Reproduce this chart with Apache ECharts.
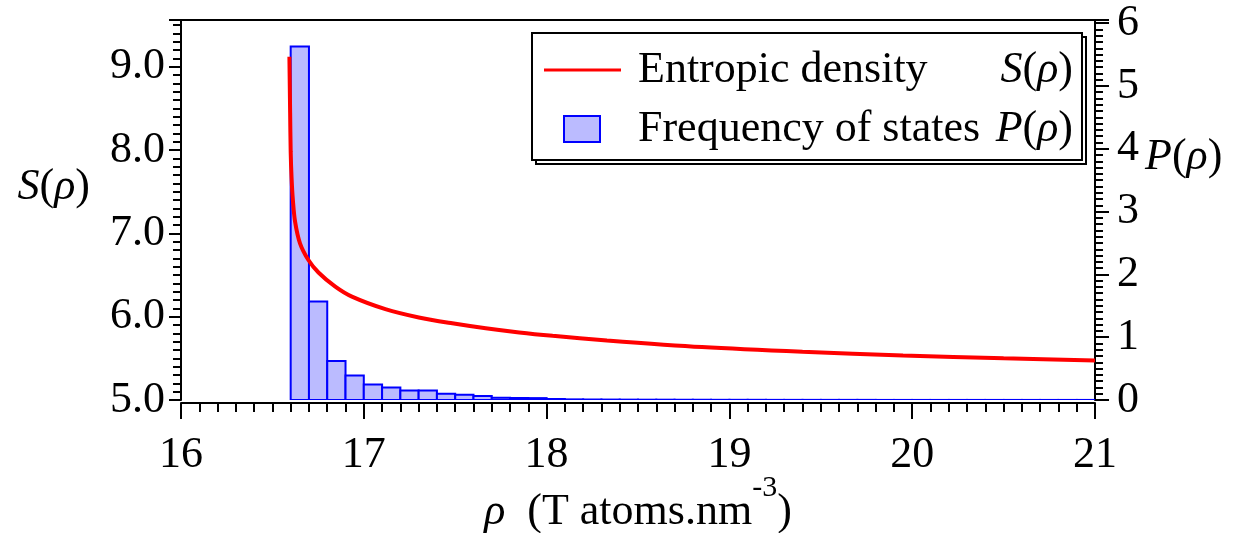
<!DOCTYPE html>
<html><head><meta charset="utf-8">
<script src="https://cdn.jsdelivr.net/npm/echarts@6/dist/echarts.min.js"></script>
<style>html,body{margin:0;padding:0;background:#fff}#c{width:1233px;height:533px}</style>
</head><body><div id="c"></div>
<script>
// Entropic density curve S(rho)
const rho = [16.593, 16.595, 16.597, 16.600, 16.605, 16.612, 16.624, 16.651, 16.697, 16.752, 16.844, 16.935, 17.118, 17.301, 17.484, 17.667, 17.850, 18.033, 18.33, 18.85, 19.40, 19.95, 20.50, 21.00];
const entropy = [9.12, 8.78, 8.45, 7.98, 7.66, 7.40, 7.14, 6.88, 6.68, 6.53, 6.36, 6.24, 6.09, 5.99, 5.92, 5.86, 5.81, 5.77, 5.715, 5.635, 5.578, 5.535, 5.50, 5.475];
// Histogram P(rho): bin edges and frequencies
const binEdges = [16.6,16.7,16.8,16.9,17.0,17.1,17.2,17.3,17.4,17.5,17.6,17.7,17.8,17.9,18.0,18.1,18.2,18.3,18.4,18.5,18.6,18.7,18.8,18.9,19.0,19.1,19.2,19.3,19.4,19.5,19.6,19.7,19.8,19.9,20.0,20.1,20.2,20.3,20.4,20.5,20.6,20.7,20.8,20.9,21.0];
const freq = [5.63,1.57,0.62,0.39,0.245,0.20,0.153,0.153,0.098,0.085,0.064,0.037,0.032,0.030,0.016,0.010,0.008,0.007,0.006,0.005,0.005,0.004,0.004,0.003,0.003,0.003,0.002,0.002,0.002,0.002,0.002,0.002,0.001,0.001,0.001,0.001,0.001,0.001,0.001,0.001,0.001,0.001,0.001,0.001];
const xTickLabels = ['16','17','18','19','20','21'];

const FONT = '"Liberation Serif", "Times New Roman", serif';
const FS = 44;
const black = '#000';
const histData = freq.map((f, i) => [binEdges[i], binEdges[i + 1], f]);
const lineData = rho.map((r, i) => [r, entropy[i]]);

const chart = echarts.init(document.getElementById('c'), null, {renderer: 'canvas'});
const italic = {fontStyle: 'italic', fontFamily: FONT, fontSize: FS, color: black};

chart.setOption({
  animation: false,
  backgroundColor: '#fff',
  grid: {left: 181, right: 138, top: 20, bottom: 133, containLabel: false, outerBoundsMode: 'none'},
  xAxis: [{
    type: 'value', min: 16, max: 21, interval: 1, position: 'bottom', offset: 3,
    axisLine: {show: true, onZero: false, lineStyle: {color: black, width: 2}},
    axisTick: {show: true, inside: false, length: 16, lineStyle: {color: black, width: 2}},
    minorTick: {show: true, splitNumber: 10, length: 9, lineStyle: {color: black, width: 2}},
    splitLine: {show: false}, minorSplitLine: {show: false},
    axisLabel: {color: black, fontFamily: FONT, fontSize: FS, margin: 30,
      formatter: v => xTickLabels[Math.round(v - 16)] || ''},
    name: '{i|\u03c1}{n|  (T atoms.nm}{sup|-3}{n|)}',
    nameLocation: 'middle', nameGap: 70, nameMoveOverlap: false,
    nameTextStyle: {color: black, fontFamily: FONT, fontSize: FS,
      rich: {
        i: {fontStyle: 'italic', fontFamily: FONT, fontSize: FS, color: black, lineHeight: 78, verticalAlign: 'middle'},
        n: {fontFamily: FONT, fontSize: FS, color: black, lineHeight: 78, verticalAlign: 'middle'},
        sup: {fontFamily: FONT, fontSize: 30, color: black, lineHeight: 30, verticalAlign: 'top'}
      }}
  }, {
    type: 'value', min: 16, max: 21, position: 'top',
    axisLine: {show: true, onZero: false, lineStyle: {color: black, width: 2}},
    axisTick: {show: false}, axisLabel: {show: false}, splitLine: {show: false}
  }],
  yAxis: [{
    type: 'value', min: 5, max: 9.56, interval: 1, position: 'left',
    axisLine: {show: true, onZero: false, lineStyle: {color: black, width: 2}},
    axisTick: {show: true, length: 12, lineStyle: {color: black, width: 2}},
    splitLine: {show: false},
    axisLabel: {color: black, fontFamily: FONT, fontSize: FS, margin: 16,
      formatter: v => Math.abs(v - Math.round(v)) < 1e-6 ? v.toFixed(1) : ''},
    name: '{i|S}({i|\u03c1})', nameLocation: 'middle', nameRotate: 0, nameGap: 91, nameMoveOverlap: false,
    nameTextStyle: {color: black, fontFamily: FONT, fontSize: FS, padding: [0, 0, 46, 0], rich: {i: italic}}
  }, {
    type: 'value', min: 5, max: 9.56, interval: 0.1, position: 'left',
    axisLine: {show: false}, axisTick: {show: true, length: 8, lineStyle: {color: black, width: 2}},
    axisLabel: {show: false}, splitLine: {show: false}
  }, {
    type: 'value', min: 0, max: 6.05, interval: 1, position: 'right',
    axisLine: {show: true, onZero: false, lineStyle: {color: black, width: 2}},
    axisTick: {show: true, length: 14, lineStyle: {color: black, width: 2}},
    splitLine: {show: false},
    axisLabel: {color: black, fontFamily: FONT, fontSize: FS, margin: 22,
      formatter: v => Math.abs(v - Math.round(v)) < 1e-6 ? String(Math.round(v)) : ''},
    name: '{i|P}({i|\u03c1})', nameLocation: 'middle', nameRotate: 0, nameGap: 50, nameMoveOverlap: false,
    nameTextStyle: {color: black, fontFamily: FONT, fontSize: FS, padding: [0, 0, 106, 0], rich: {i: italic}}
  }, {
    type: 'value', min: 0, max: 6.05, interval: 0.1, position: 'right',
    axisLine: {show: false}, axisTick: {show: true, length: 8, lineStyle: {color: black, width: 2}},
    axisLabel: {show: false}, splitLine: {show: false}
  }],
  series: [{
    type: 'custom', name: 'Frequency of states', xAxisIndex: 0, yAxisIndex: 2, clip: true, z: 2,
    encode: {x: [0, 1], y: 2},
    data: histData,
    renderItem: (params, api) => {
      const p0 = api.coord([api.value(0), 0]);
      const p1 = api.coord([api.value(1), api.value(2)]);
      return {type: 'rect', shape: {x: p0[0], y: p1[1], width: p1[0] - p0[0], height: p0[1] - p1[1]},
        style: {fill: '#bbbbff', stroke: '#0000ff', lineWidth: 2}};
    }
  }, {
    type: 'line', name: 'Entropic density', xAxisIndex: 0, yAxisIndex: 0, z: 3,
    data: lineData, showSymbol: false, smooth: 0.3,
    lineStyle: {color: '#ff0000', width: 4}
  }],
  graphic: [
    {type: 'rect', z: 10, shape: {x: 536, y: 37, width: 550, height: 127}, style: {fill: 'none', stroke: black, lineWidth: 2}},
    {type: 'rect', z: 11, shape: {x: 532, y: 33, width: 550, height: 127}, style: {fill: '#fff', stroke: black, lineWidth: 2}},
    {type: 'line', z: 12, shape: {x1: 544, y1: 70, x2: 621, y2: 70}, style: {stroke: '#ff0000', lineWidth: 3}},
    {type: 'rect', z: 12, shape: {x: 564, y: 116, width: 36, height: 26}, style: {fill: '#bbbbff', stroke: '#0000ff', lineWidth: 2}},
    {type: 'text', z: 12, x: 638, y: 70, style: {text: 'Entropic density', font: FS + 'px ' + FONT, fill: black, verticalAlign: 'middle'}},
    {type: 'text', z: 12, x: 1073, y: 70, style: {text: '{i|S}({i|\u03c1})', rich: {i: italic}, font: FS + 'px ' + FONT, fill: black, align: 'right', verticalAlign: 'middle'}},
    {type: 'text', z: 12, x: 638, y: 129, style: {text: 'Frequency of states', font: FS + 'px ' + FONT, fill: black, verticalAlign: 'middle'}},
    {type: 'text', z: 12, x: 1073, y: 129, style: {text: '{i|P}({i|\u03c1})', rich: {i: italic}, font: FS + 'px ' + FONT, fill: black, align: 'right', verticalAlign: 'middle'}}
  ]
});
</script></body></html>
